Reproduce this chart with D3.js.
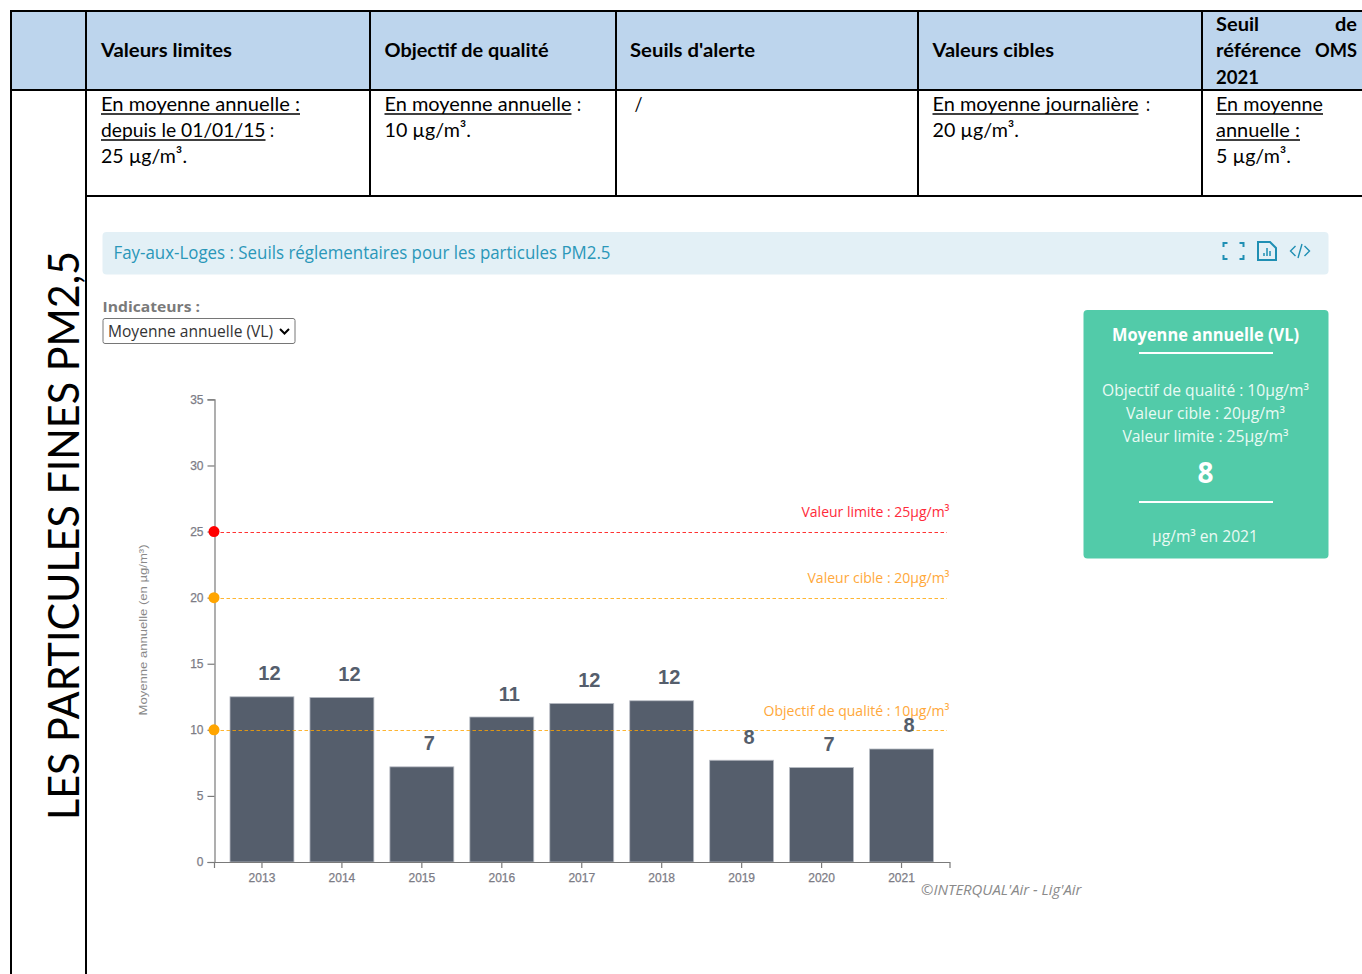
<!DOCTYPE html>
<html lang="fr"><head><meta charset="utf-8"><title>PM2.5</title>
<script src="https://cdn.jsdelivr.net/npm/d3@7"></script>
<style>html,body{margin:0;padding:0;background:#fff;overflow:hidden}svg{display:block}text{white-space:pre}</style>
</head><body><svg id="c" width="1362" height="974"></svg>
<script>
// ---- data ----
const years = ["2013","2014","2015","2016","2017","2018","2019","2020","2021"];
const annualMeans = [12.5,12.45,7.2,10.97,12.0,12.2,7.7,7.15,8.55];
const barLabels = ["12","12","7","11","12","12","8","7","8"];
const yTicks = [0,5,10,15,20,25,30,35];
const thresholdNames = ["Valeur limite : 25µg/m³","Valeur cible : 20µg/m³","Objectif de qualité : 10µg/m³"];
const thresholdValues = [25,20,10];
const thresholdColors = ["#ff0000","#ffa500","#ffa500"];
const thresholdTextWidths = [148,142,186];
const cardLines = ["Objectif de qualité : 10µg/m³","Valeur cible : 20µg/m³","Valeur limite : 25µg/m³"];

// ---- layout ----
const svg = d3.select("#c");
const LATO = "Lato, sans-serif", OS = "'Open Sans', sans-serif", AR = "'Liberation Sans', Arial, sans-serif";
function txt(parent, s, x, y, o = {}) {
  const t = parent.append("text").attr("x", x).attr("y", y).text(s)
    .attr("font-family", o.font || LATO).attr("font-size", o.size || 20)
    .attr("fill", o.fill || "#000").attr("font-weight", o.bold ? 700 : 400)
    .attr("text-anchor", o.anchor || "start");
  if (o.italic) t.attr("font-style", "italic");
  if (o.w) t.attr("textLength", o.w).attr("lengthAdjust", "spacingAndGlyphs");
  return t;
}

// table
const hdr = svg.append("g");
hdr.append("rect").attr("x", 11).attr("y", 11).attr("width", 1351).attr("height", 79).attr("fill", "#bdd5ed");
const headerCells = [
  ["Valeurs limites",101,57,131],["Objectif de qualité",384.5,57,164],["Seuils d'alerte",630,57,125],
  ["Valeurs cibles",932.5,57,121.5],["Seuil",1216,31,43],["de",1335,31,22],
  ["référence",1216,57,85],["OMS",1315,57,42],["2021",1216,84,43]];
headerCells.forEach(c => txt(hdr, c[0], c[1], c[2], {bold:true, w:c[3], size:19.5}));
const bodyCells = [
  ["En moyenne annuelle :",101,110.5,199,1],["depuis le 01/01/15",101,136.5,164.5,1],[":",270,136.5,4,0],["25 µg/m³.",101,163,86,0],
  ["En moyenne annuelle",384.5,110.5,187,1],[":",577,110.5,4,0],["10 µg/m³.",384.5,136.5,86.5,0],
  ["/",634.5,110.5,8,0],
  ["En moyenne journalière",932.5,110.5,206,1],[":",1146,110.5,4,0],["20 µg/m³.",932.5,136.5,86.5,0],
  ["En moyenne",1216,110.5,107,1],["annuelle :",1216,136.5,84,1],["5 µg/m³.",1216,163,75,0]];
const body = svg.append("g");
bodyCells.forEach(c => {
  txt(body, c[0], c[1], c[2], {w:c[3]});
  if (c[4]) body.append("line").attr("x1", c[1]).attr("x2", c[1]+c[3]).attr("y1", c[2]+3.5).attr("y2", c[2]+3.5).attr("stroke", "#000").attr("stroke-width", 1.3);
});
const rules = [[10,11,1362,11],[10,90,1362,90],[86,196,1362,196],[11,10,11,974],[86,10,86,974],
  [370,11,370,196],[616,11,616,196],[918,11,918,196],[1202,11,1202,196]];
svg.append("g").selectAll("line").data(rules).join("line")
  .attr("x1",d=>d[0]).attr("y1",d=>d[1]).attr("x2",d=>d[2]).attr("y2",d=>d[3])
  .attr("stroke","#000").attr("stroke-width",2);
txt(svg, "LES PARTICULES FINES PM2,5", 0, 0, {size:42, w:569, font:LATO})
  .attr("transform","translate(79,820) rotate(-90)");

// banner
svg.append("rect").attr("x",102.5).attr("y",232).attr("width",1226).attr("height",42.5).attr("rx",4).attr("fill","#e3f0f6");
txt(svg,"Fay-aux-Loges : Seuils réglementaires pour les particules PM2.5",113.5,259,{font:OS,size:18,w:497,fill:"#2a97b9"});
const ic = svg.append("g").attr("fill","none").attr("stroke","#1f8fb3").attr("stroke-width",2);
["M1223.5 247v-4h4","M1239.5 243h4v4","M1223.5 255v4h4","M1239.5 259h4v-4"].forEach(p=>ic.append("path").attr("d",p));
ic.append("path").attr("d","M1258 242h12l6 6v12h-18z");
ic.append("path").attr("d","M1264 256v-3M1267 256v-8M1270 256v-5").attr("stroke-width",1.5);
ic.append("path").attr("d","M1295.5 246l-5 5 5 5M1304.5 246l5 5-5 5M1302 244l-4 14").attr("stroke-width",1.4);

// selector
txt(svg,"Indicateurs :",102.5,312,{font:OS,size:14.5,bold:true,w:97.5,fill:"#7a7a7a"});
svg.append("rect").attr("x",103).attr("y",318.5).attr("width",192).attr("height",25).attr("rx",2).attr("fill","#fff").attr("stroke","#767676");
txt(svg,"Moyenne annuelle (VL)",108,337,{font:OS,size:16,w:165,fill:"#333"});
svg.append("path").attr("d","M280 329l4.5 4.5 4.5-4.5").attr("fill","none").attr("stroke","#000").attr("stroke-width",2);

// chart
const x = d3.scaleBand().domain(years).range([214,949.5]).paddingInner(0.2).paddingOuter(0.2);
const y = d3.scaleLinear().domain([0,35]).range([862,399.4]);
const axisGrey = "#7a7a7a", tickGrey = "#7c7c86";
const chart = svg.append("g");
chart.selectAll("rect.bar").data(years).join("rect").attr("class","bar")
  .attr("x",d=>x(d)).attr("width",x.bandwidth())
  .attr("y",(d,i)=>y(annualMeans[i])).attr("height",(d,i)=>y(0)-y(annualMeans[i]))
  .attr("fill","#555e6c").attr("stroke","#b9bdc5").attr("stroke-width",0.8);
const yAxis = chart.append("g").attr("transform","translate(214.5,0)").call(d3.axisLeft(y).tickValues(yTicks).tickSize(7).tickPadding(4));
const xAxis = chart.append("g").attr("transform","translate(0,862)").call(d3.axisBottom(x).tickSize(6).tickPadding(5));
[yAxis,xAxis].forEach(a=>{
  a.selectAll("path,line").attr("stroke",axisGrey).attr("stroke-width",1.2);
  a.selectAll("text").attr("fill",tickGrey).attr("font-family",AR).attr("font-size",12).attr("font-weight",500).attr("stroke",tickGrey).attr("stroke-width",0.25);
});
chart.append("g").selectAll("line").data(thresholdValues).join("line")
  .attr("x1",214.5).attr("x2",947).attr("y1",d=>Math.round(y(d))+0.5).attr("y2",d=>Math.round(y(d))+0.5)
  .attr("stroke",(d,i)=>thresholdColors[i]).attr("stroke-width",1.2).attr("stroke-dasharray","3.5 2.5").attr("opacity",.8);
chart.append("g").selectAll("circle").data(thresholdValues).join("circle")
  .attr("cx",214).attr("cy",d=>y(d)).attr("r",5.5).attr("fill",(d,i)=>thresholdColors[i]);
thresholdValues.forEach((v,i)=>{
  txt(chart,thresholdNames[i],949.5,y(v)-14.2,{font:OS,size:14.5,fill:thresholdColors[i]==="#ff0000"?"#ff2a3a":"#ffa83a",
    anchor:"end",w:thresholdTextWidths[i]});
});
chart.selectAll("text.val").data(years).join("text").attr("class","val")
  .attr("x",d=>x(d)+x.bandwidth()/2+7.5).attr("y",(d,i)=>y(annualMeans[i])-16.5)
  .attr("text-anchor","middle").attr("font-family",AR).attr("font-weight",700).attr("font-size",20)
  .attr("fill","#555e6c").text((d,i)=>barLabels[i]);
txt(chart,"Moyenne annuelle (en µg/m³)",0,0,{font:AR,size:11.5,fill:"#888",anchor:"middle",w:171})
  .attr("transform","translate(147,630) rotate(-90)");
txt(chart,"©INTERQUAL'Air - Lig'Air",921,895,{font:OS,size:14,italic:true,fill:"#8a8a8a",w:160.5});

// card
const card = svg.append("g");
card.append("rect").attr("x",1083.5).attr("y",310).attr("width",245).attr("height",248.5).attr("rx",4).attr("fill","#52cba9");
txt(card,"Moyenne annuelle (VL)",1205.5,341,{font:OS,size:17,bold:true,fill:"#fff",anchor:"middle",w:187});
card.append("line").attr("x1",1139).attr("x2",1273).attr("y1",353).attr("y2",353).attr("stroke","#fff").attr("stroke-width",2);
[[395.5,207],[418.5,159],[441.7,166]].forEach((p,i)=>txt(card,cardLines[i],1205.5,p[0],{font:OS,size:16,fill:"#eafaf4",anchor:"middle",w:p[1]}));
txt(card,"8",1205.5,482.5,{font:OS,size:28,bold:true,fill:"#fff",anchor:"middle"});
card.append("line").attr("x1",1139).attr("x2",1273).attr("y1",502).attr("y2",502).attr("stroke","#fff").attr("stroke-width",2);
txt(card,"µg/m³ en 2021",1205,542,{font:OS,size:16,fill:"#eafaf4",anchor:"middle",w:106});
</script></body></html>
